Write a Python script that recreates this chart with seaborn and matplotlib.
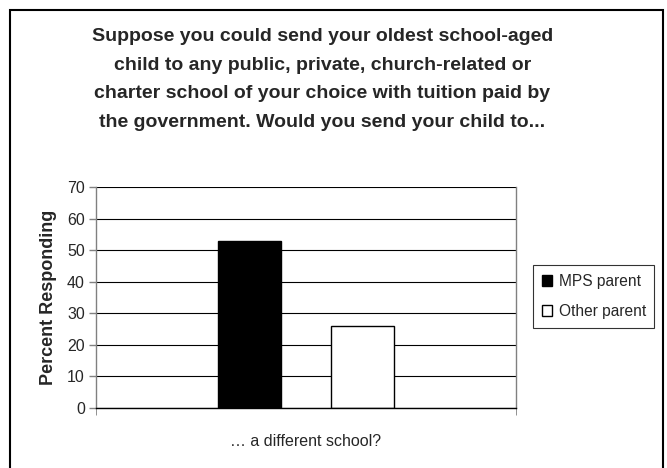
import matplotlib
matplotlib.use("Agg")
import matplotlib.pyplot as plt
import pandas as pd
import seaborn as sns
from matplotlib.patches import Rectangle

# Values
categories = ['… a different school?']
groups = ['MPS parent', 'Other parent']
percents = [53, 26]
colors = ['black', 'white']

df = pd.DataFrame({
    'Answer': categories * len(groups),
    'Group': groups,
    'Percent': percents,
})

sns.set_style('white')
plt.rcParams['font.family'] = ['Liberation Sans', 'DejaVu Sans']

fig = plt.figure(figsize=(6.67, 4.68), dpi=100)
ax = fig.add_axes([0.1439, 0.1282, 0.6297, 0.4722])

sns.barplot(data=df, x='Answer', y='Percent', hue='Group', palette=colors,
            width=0.538, gap=0.44, edgecolor='black', linewidth=1,
            saturation=1, ax=ax, legend=True)

ax.set_xlim(-0.5, 0.5)
ax.set_ylim(0, 70)
ax.set_yticks(range(0, 71, 10))
ax.yaxis.grid(True, color='black', linewidth=0.8)
ax.set_axisbelow(True)
for side in ['left', 'bottom', 'right']:
    ax.spines[side].set_visible(True)
    ax.spines[side].set_color('#808080')
    ax.spines[side].set_linewidth(1)
ax.spines['top'].set_visible(False)
ax.spines['bottom'].set_color('black')

ax.tick_params(axis='y', left=True, length=5, width=1, color='#808080',
               labelsize=11.5, pad=3)
ax.set_xticks([-0.5, 0.5], minor=True)
ax.tick_params(axis='x', which='minor', bottom=True, length=5, color='#808080')
ax.tick_params(axis='x', which='major', length=0, labelsize=11.5, pad=19)

ax.set_xlabel('')
ax.set_ylabel('Percent Responding', fontsize=13, fontweight='bold', labelpad=7)

fig.text(0.483, 0.940,
         'Suppose you could send your oldest school-aged\n'
         'child to any public, private, church-related or\n'
         'charter school of your choice with tuition paid by\n'
         'the government. Would you send your child to...',
         ha='center', va='top', fontsize=14, fontweight='bold',
         linespacing=1.9)

handles, labels = ax.get_legend_handles_labels()
ax.legend(handles, labels, loc='upper left', bbox_to_anchor=(533 / 667, 1 - 265 / 468),
          bbox_transform=fig.transFigure, frameon=True, fancybox=False,
          edgecolor='black', fontsize=11.2, handlelength=0.7, handleheight=0.7,
          handletextpad=0.4, borderpad=0.55, labelspacing=1.0, borderaxespad=0)
ax.get_legend().get_frame().set_linewidth(0.8)

fig.patches.append(Rectangle((10 / 667, -0.01), 653 / 667, 1 - 10 / 468 + 0.01,
                             transform=fig.transFigure, fill=False,
                             edgecolor='black', linewidth=1.5))

fig.savefig('out.png', dpi=100)
